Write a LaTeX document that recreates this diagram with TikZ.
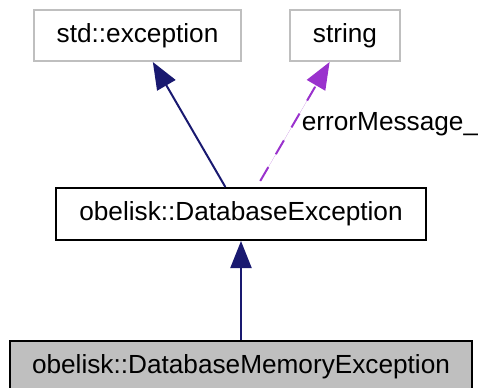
\documentclass[tikz,border=0pt]{standalone}
\usepackage{fontspec}
\setmainfont{Liberation Sans}
\usetikzlibrary{arrows.meta}

\definecolor{edgeblue}{HTML}{191970}
\definecolor{edgepurple}{HTML}{9A32CD}
\definecolor{boxgrey}{HTML}{BFBFBF}

\begin{document}
\begin{tikzpicture}[
    x=1bp, y=-1bp,
    font=\fontsize{26.3}{30}\selectfont,
    classbox/.style={rectangle, draw, line width=2bp, inner sep=0pt},
    extbox/.style={classbox, draw=boxgrey},
    inherit/.style={-{Triangle[length=27bp, width=21bp]}, line width=2bp, draw=edgeblue, fill=edgeblue},
    usage/.style={-{Triangle[length=27bp, width=21bp]}, line width=2bp, draw=edgepurple, fill=edgepurple, dash pattern=on 16bp off 15bp}
]
\path[use as bounding box, clip] (0,0) rectangle (478,387);

% Top level: external classes
\node[extbox, minimum width=207bp, minimum height=51bp] (stdexc) at (137.5,35.5) {std::exception};
\node[extbox, minimum width=110bp, minimum height=51bp] (str) at (345,35.5) {string};

% Middle level: base class
\node[classbox, minimum width=370bp, minimum height=52bp] (dbexc) at (241,214) {obelisk::DatabaseException};

% Bottom level: this class
\node[classbox, fill=boxgrey, minimum width=462bp, minimum height=52bp] (dbmemexc) at (241,367) {obelisk::DatabaseMemoryException};

% Member label
\node (msg) at (390,124) {errorMessage\_};

% Inheritance
\draw[inherit] (dbexc) -- (stdexc);
\draw[inherit] (dbmemexc) -- (dbexc);

% Usage
\draw[usage, shorten <=7bp] (dbexc) -- (str);

\end{tikzpicture}
\end{document}
